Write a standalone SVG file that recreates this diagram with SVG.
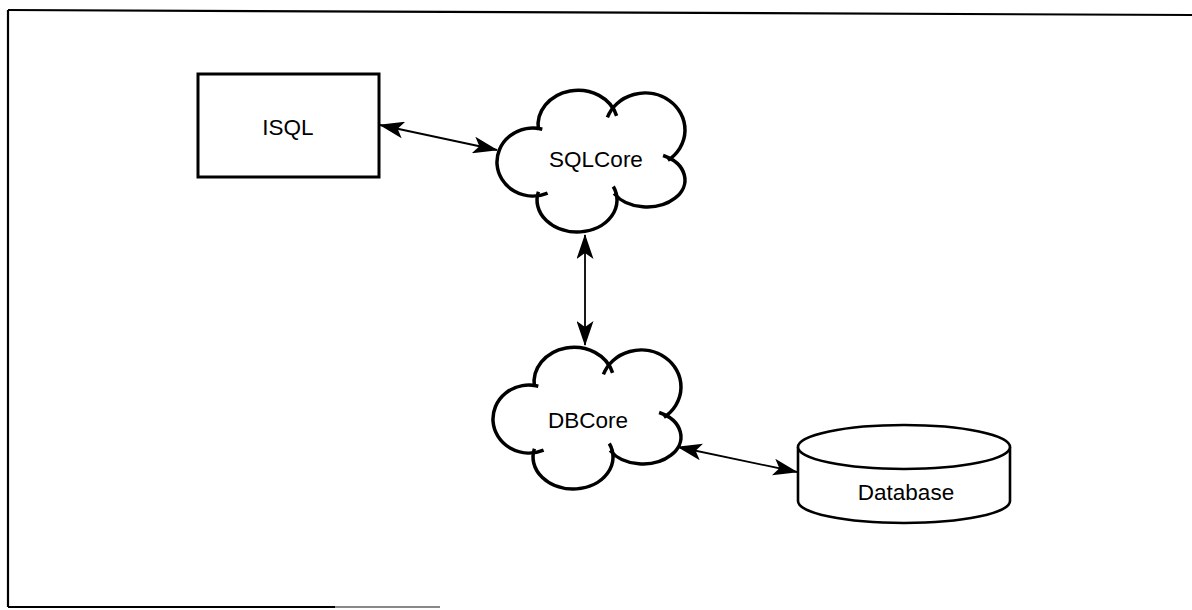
<svg xmlns="http://www.w3.org/2000/svg" width="1192" height="610" viewBox="0 0 1192 610">
<style>
.frame{fill:none;stroke:#000;stroke-width:2.2}
.box{fill:#fff;stroke:#000;stroke-width:3}
.cloud{fill:none;stroke:#000;stroke-width:3.5;stroke-linecap:butt}
.cyl{fill:#fff;stroke:#000;stroke-width:2.6}
.conn{fill:none;stroke:#000;stroke-width:1.8}
.lbl{font-family:"Liberation Sans",Arial,sans-serif;font-size:22.5px;fill:#000;text-anchor:middle}
</style>
<defs>
<marker id="ah" viewBox="0 0 25 17" refX="24" refY="8.5" markerWidth="25" markerHeight="17" markerUnits="userSpaceOnUse" orient="auto-start-reverse">
<path d="M0,0 L25,8.5 L0,17 L6,8.5 z" fill="#000"/>
</marker>
<g id="cloudShape">
<path class="cloud" d="M50.6,105.1 A36,34 0 1 1 45.3,41.2"/>
<path class="cloud" d="M41.4,41.9 A40,35 0 0 1 119.6,27.9"/>
<path class="cloud" d="M110.4,29.35 A40,37 0 1 1 170.9,72.3"/>
<path class="cloud" d="M166.1,67.5 A38,27 0 1 1 117.1,105.5"/>
<path class="cloud" d="M116.3,98.5 A40,32 0 1 1 41.4,103.7"/>
</g>
</defs>
<g id="frame">
<path class="frame" d="M8,10 L1192,15"/>
<path class="frame" d="M8,10 L8,607"/>
<path class="frame" d="M8,607 L335,607"/>
<path d="M335,607 L440,607" stroke="#888" stroke-width="2" fill="none"/>
</g>
<g id="connectors">
<line class="conn" x1="380" y1="125" x2="497" y2="150" marker-start="url(#ah)" marker-end="url(#ah)"/>
<line class="conn" x1="585" y1="235" x2="585" y2="345" marker-start="url(#ah)" marker-end="url(#ah)"/>
<line class="conn" x1="678" y1="447" x2="797" y2="472" marker-start="url(#ah)" marker-end="url(#ah)"/>
</g>
<g id="isql">
<rect class="box" x="198" y="74" width="181" height="103"/>
<text class="lbl" x="288" y="135">ISQL</text>
</g>
<g id="sqlcore">
<use href="#cloudShape" transform="translate(497,88)"/>
<text class="lbl" x="596" y="167">SQLCore</text>
</g>
<g id="dbcore">
<use href="#cloudShape" transform="translate(493,345)"/>
<text class="lbl" x="588" y="428">DBCore</text>
</g>
<g id="database">
<path class="cyl" d="M798,447 L798,501 A106,22 0 0 0 1010,501 L1010,447"/>
<ellipse class="cyl" cx="904" cy="447" rx="106" ry="22"/>
<text class="lbl" x="906" y="500">Database</text>
</g>
</svg>
